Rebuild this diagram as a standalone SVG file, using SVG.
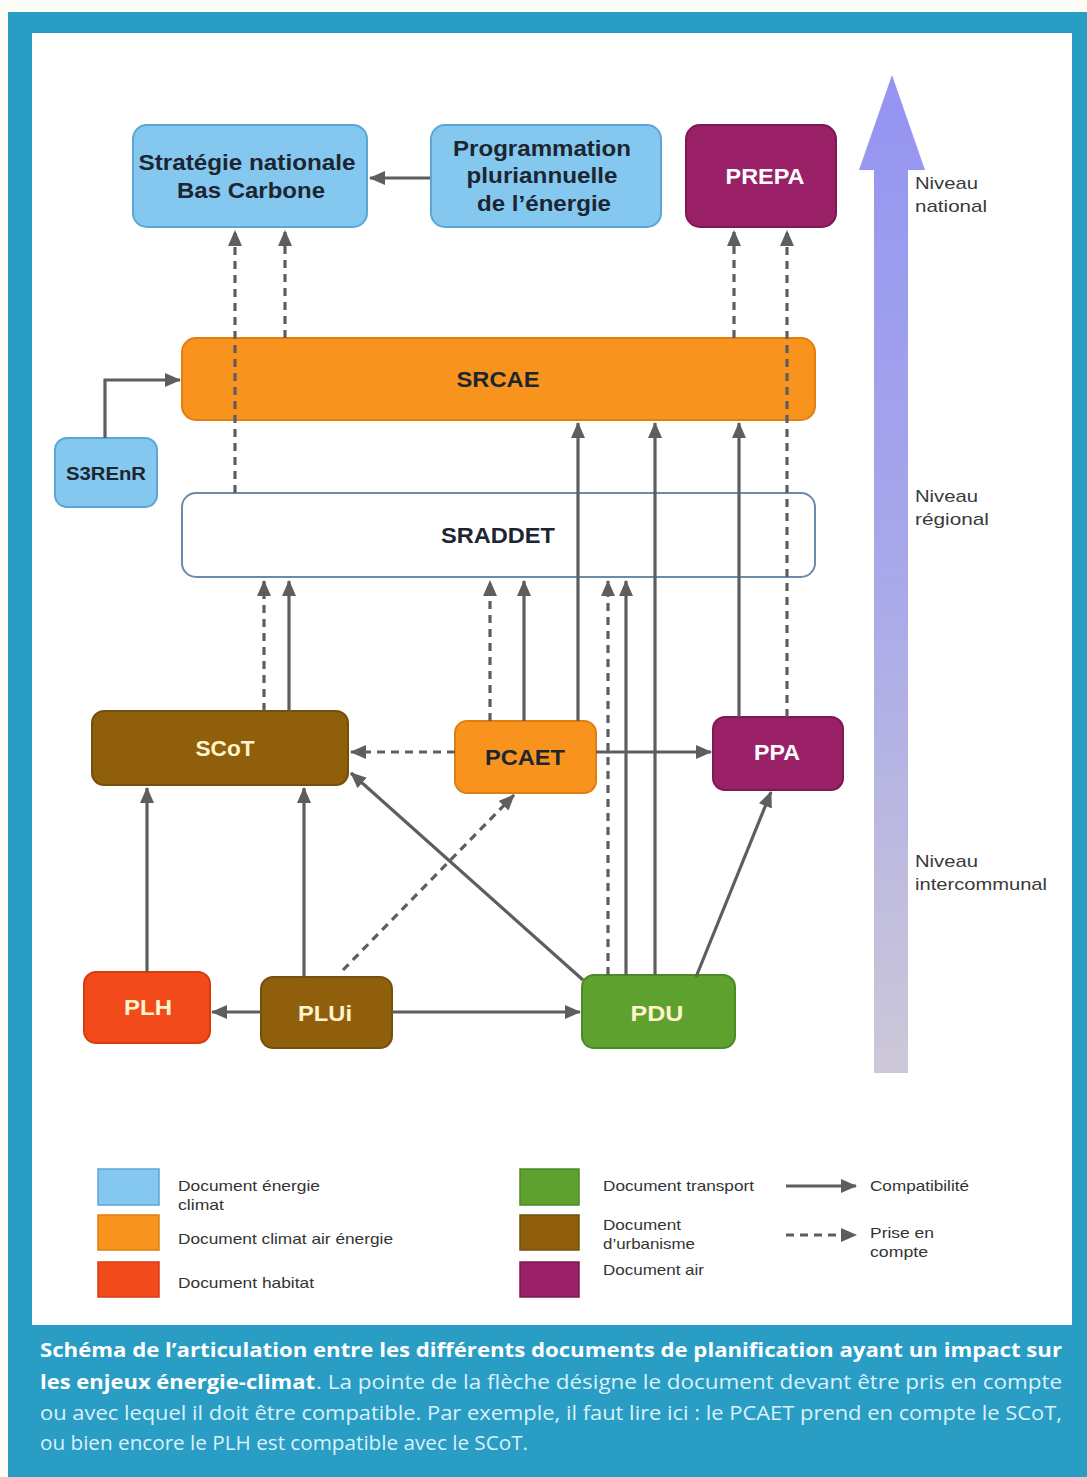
<svg xmlns="http://www.w3.org/2000/svg" width="1087" height="1477" viewBox="0 0 1087 1477">
<style>
.node-t{font-family:"Liberation Sans",Arial,sans-serif;font-weight:bold;font-size:22px;text-anchor:middle}
.dark{fill:#1d2530}
.light{fill:#fff4cc}
.white{fill:#ffffff}
.con{fill:none;stroke:#5e5e5e;stroke-width:3.2}
.dash{stroke-dasharray:8 6}
.lvl{font-family:"Liberation Sans",Arial,sans-serif;font-size:17px;fill:#3a3a3a}
.leg{font-family:"Liberation Sans",Arial,sans-serif;font-size:15px;fill:#333333}
.cap{font-family:"Open Sans","Liberation Sans",sans-serif;font-size:20px}
.capb{font-weight:bold;fill:#ffffff}
.capn{fill:#d9f1fa}
.blue{fill:#84c8f0;stroke:#5ba6d6;stroke-width:2}
.orange{fill:#f8941d;stroke:#e07f10;stroke-width:2}
.magenta{fill:#9a2167;stroke:#7d1852;stroke-width:2}
.brown{fill:#8f5f0c;stroke:#74500a;stroke-width:2}
.red{fill:#f24a1a;stroke:#d63c10;stroke-width:2}
.green{fill:#5ea12f;stroke:#4d8a25;stroke-width:2}
.outline{fill:#ffffff;stroke:#6a8caa;stroke-width:2}
</style>
<defs>
<marker id="ah" markerWidth="16" markerHeight="14" refX="15" refY="7" orient="auto" markerUnits="userSpaceOnUse">
<path d="M0,0 L16,7 L0,14 z" fill="#5e5e5e"/>
</marker>
<linearGradient id="lvlgrad" x1="0" y1="0" x2="0" y2="1">
<stop offset="0" stop-color="#9494f2"/>
<stop offset="0.5" stop-color="#a8a8ea"/>
<stop offset="1" stop-color="#cdc8d8"/>
</linearGradient>
</defs>

<rect x="0" y="0" width="1087" height="1477" fill="#fdfdf8"/>
<rect x="8" y="12" width="1079" height="1465" fill="#2a9dc4"/>
<rect x="32" y="33" width="1040" height="1292" fill="#ffffff"/>

<g id="level-arrow">
<polygon points="892,75 925,170 908,170 908,1073 874,1073 874,170 859,170" fill="url(#lvlgrad)"/>
<text class="lvl" x="915" y="189" textLength="63" lengthAdjust="spacingAndGlyphs">Niveau</text>
<text class="lvl" x="915" y="212" textLength="72" lengthAdjust="spacingAndGlyphs">national</text>
<text class="lvl" x="915" y="502" textLength="63" lengthAdjust="spacingAndGlyphs">Niveau</text>
<text class="lvl" x="915" y="525" textLength="74" lengthAdjust="spacingAndGlyphs">régional</text>
<text class="lvl" x="915" y="867" textLength="63" lengthAdjust="spacingAndGlyphs">Niveau</text>
<text class="lvl" x="915" y="890" textLength="132" lengthAdjust="spacingAndGlyphs">intercommunal</text>
</g>

<g id="snbc">
<rect class="blue" x="133" y="125" width="234" height="102" rx="14"/>
<text class="node-t dark" x="247" y="170" textLength="217" lengthAdjust="spacingAndGlyphs">Stratégie nationale</text>
<text class="node-t dark" x="251" y="198" textLength="148" lengthAdjust="spacingAndGlyphs">Bas Carbone</text>
</g>
<g id="ppe">
<rect class="blue" x="431" y="125" width="230" height="102" rx="14"/>
<text class="node-t dark" x="542" y="156" textLength="178" lengthAdjust="spacingAndGlyphs">Programmation</text>
<text class="node-t dark" x="542" y="183" textLength="151" lengthAdjust="spacingAndGlyphs">pluriannuelle</text>
<text class="node-t dark" x="544" y="211" textLength="134" lengthAdjust="spacingAndGlyphs">de l’énergie</text>
</g>
<g id="prepa">
<rect class="magenta" x="686" y="125" width="150" height="102" rx="14"/>
<text class="node-t white" x="765" y="184" textLength="79" lengthAdjust="spacingAndGlyphs">PREPA</text>
</g>
<g id="srcae">
<rect class="orange" x="182" y="338" width="633" height="82" rx="14"/>
<text class="node-t dark" x="498" y="387" textLength="83" lengthAdjust="spacingAndGlyphs">SRCAE</text>
</g>
<g id="s3renr">
<rect class="blue" x="55" y="438" width="102" height="69" rx="12"/>
<text class="node-t dark" x="106" y="480" style="font-size:19px" textLength="80" lengthAdjust="spacingAndGlyphs">S3REnR</text>
</g>
<g id="sraddet">
<rect class="outline" x="182" y="493" width="633" height="84" rx="14"/>
<text class="node-t dark" x="498" y="543" textLength="114" lengthAdjust="spacingAndGlyphs">SRADDET</text>
</g>
<g id="scot">
<rect class="brown" x="92" y="711" width="256" height="74" rx="12"/>
<text class="node-t light" x="225" y="756" textLength="59" lengthAdjust="spacingAndGlyphs">SCoT</text>
</g>
<g id="pcaet">
<rect class="orange" x="455" y="721" width="141" height="72" rx="12"/>
<text class="node-t dark" x="525" y="765" textLength="80" lengthAdjust="spacingAndGlyphs">PCAET</text>
</g>
<g id="ppa">
<rect class="magenta" x="713" y="717" width="130" height="73" rx="12"/>
<text class="node-t white" x="777" y="760" textLength="46" lengthAdjust="spacingAndGlyphs">PPA</text>
</g>
<g id="plh">
<rect class="red" x="84" y="972" width="126" height="71" rx="12"/>
<text class="node-t light" x="148" y="1015" textLength="48" lengthAdjust="spacingAndGlyphs">PLH</text>
</g>
<g id="plui">
<rect class="brown" x="261" y="977" width="131" height="71" rx="12"/>
<text class="node-t light" x="325" y="1021" textLength="54" lengthAdjust="spacingAndGlyphs">PLUi</text>
</g>
<g id="pdu">
<rect class="green" x="582" y="975" width="153" height="73" rx="12"/>
<text class="node-t light" x="657" y="1021" textLength="53" lengthAdjust="spacingAndGlyphs">PDU</text>
</g>

<g id="connectors">
<line class="con" x1="430" y1="178" x2="370" y2="178" marker-end="url(#ah)"/>
<path class="con" d="M105,438 V380 H180" marker-end="url(#ah)"/>
<path class="con dash" d="M235,493 V231" marker-end="url(#ah)"/>
<path class="con dash" d="M285,338 V231" marker-end="url(#ah)"/>
<path class="con dash" d="M734,338 V231" marker-end="url(#ah)"/>
<path class="con dash" d="M787,717 V231" marker-end="url(#ah)"/>
<path class="con" d="M578,721 V423" marker-end="url(#ah)"/>
<path class="con" d="M655,975 V423" marker-end="url(#ah)"/>
<path class="con" d="M739,717 V423" marker-end="url(#ah)"/>
<path class="con dash" d="M264,711 V581" marker-end="url(#ah)"/>
<path class="con" d="M289,711 V581" marker-end="url(#ah)"/>
<path class="con dash" d="M490,721 V581" marker-end="url(#ah)"/>
<path class="con" d="M524,721 V581" marker-end="url(#ah)"/>
<path class="con dash" d="M608,975 V581" marker-end="url(#ah)"/>
<path class="con" d="M626,975 V581" marker-end="url(#ah)"/>
<path class="con dash" d="M455,752 H351" marker-end="url(#ah)"/>
<path class="con" d="M596,752 H711" marker-end="url(#ah)"/>
<path class="con" d="M147,972 V788" marker-end="url(#ah)"/>
<path class="con" d="M304,977 V788" marker-end="url(#ah)"/>
<path class="con dash" d="M343,970 L514,795" marker-end="url(#ah)"/>
<path class="con" d="M583,980 L351,773" marker-end="url(#ah)"/>
<path class="con" d="M696,977 L771,792" marker-end="url(#ah)"/>
<path class="con" d="M261,1012 H212" marker-end="url(#ah)"/>
<path class="con" d="M392,1012 H580" marker-end="url(#ah)"/>
</g>

<g id="legend">
<rect x="98" y="1169" width="61" height="36" fill="#84c8f0" stroke="#5ba6d6" stroke-width="1.5"/>
<text class="leg" x="178" y="1191" textLength="142" lengthAdjust="spacingAndGlyphs">Document énergie</text>
<text class="leg" x="178" y="1210" textLength="46" lengthAdjust="spacingAndGlyphs">climat</text>
<rect x="98" y="1215" width="61" height="35" fill="#f8941d" stroke="#e07f10" stroke-width="1.5"/>
<text class="leg" x="178" y="1244" textLength="215" lengthAdjust="spacingAndGlyphs">Document climat air énergie</text>
<rect x="98" y="1262" width="61" height="35" fill="#f24a1a" stroke="#d63c10" stroke-width="1.5"/>
<text class="leg" x="178" y="1288" textLength="136" lengthAdjust="spacingAndGlyphs">Document habitat</text>
<rect x="520" y="1169" width="59" height="36" fill="#5ea12f" stroke="#4d8a25" stroke-width="1.5"/>
<text class="leg" x="603" y="1191" textLength="151" lengthAdjust="spacingAndGlyphs">Document transport</text>
<rect x="520" y="1215" width="59" height="35" fill="#8f5f0c" stroke="#74500a" stroke-width="1.5"/>
<text class="leg" x="603" y="1230" textLength="78" lengthAdjust="spacingAndGlyphs">Document</text>
<text class="leg" x="603" y="1249" textLength="92" lengthAdjust="spacingAndGlyphs">d’urbanisme</text>
<rect x="520" y="1262" width="59" height="35" fill="#9a2167" stroke="#7d1852" stroke-width="1.5"/>
<text class="leg" x="603" y="1275" textLength="101" lengthAdjust="spacingAndGlyphs">Document air</text>
<line class="con" x1="786" y1="1186" x2="856" y2="1186" marker-end="url(#ah)"/>
<text class="leg" x="870" y="1191" textLength="99" lengthAdjust="spacingAndGlyphs">Compatibilité</text>
<line class="con dash" x1="786" y1="1235" x2="856" y2="1235" marker-end="url(#ah)"/>
<text class="leg" x="870" y="1238" textLength="64" lengthAdjust="spacingAndGlyphs">Prise en</text>
<text class="leg" x="870" y="1257" textLength="58" lengthAdjust="spacingAndGlyphs">compte</text>
</g>

<g id="caption">
<text class="cap capb" x="40" y="1357" textLength="1022" lengthAdjust="spacingAndGlyphs">Schéma de l’articulation entre les différents documents de planification ayant un impact sur</text>
<text class="cap capb" x="40" y="1389" textLength="275" lengthAdjust="spacingAndGlyphs">les enjeux énergie-climat</text>
<text class="cap capn" x="316" y="1389" textLength="746" lengthAdjust="spacingAndGlyphs">. La pointe de la flèche désigne le document devant être pris en compte</text>
<text class="cap capn" x="40" y="1420" textLength="1022" lengthAdjust="spacingAndGlyphs">ou avec lequel il doit être compatible. Par exemple, il faut lire ici : le PCAET prend en compte le SCoT,</text>
<text class="cap capn" x="40" y="1450" textLength="488" lengthAdjust="spacingAndGlyphs">ou bien encore le PLH est compatible avec le SCoT.</text>
</g>
</svg>
